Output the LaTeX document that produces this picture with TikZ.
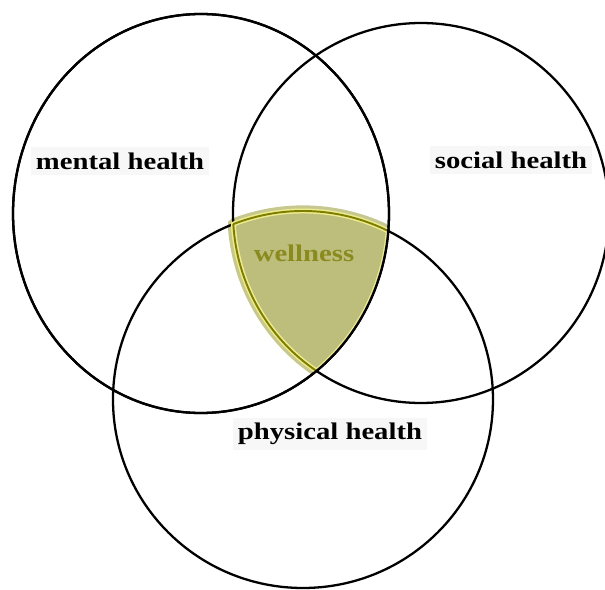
\documentclass[tikz,border=0pt]{standalone}
\usepackage{fontspec}
\newfontfamily\vennfont{Liberation Serif}[FakeStretch=1.2]
\definecolor{wellfill}{RGB}{189,190,124}
\definecolor{wellline}{RGB}{125,125,0}
\definecolor{wellglow}{RGB}{238,236,140}
\definecolor{welltext}{RGB}{138,138,30}
\begin{document}
\begin{tikzpicture}[x=0.01cm, y=0.01cm,
	ring/.style={draw=black, line width=0.65pt},
	vennlabel/.style={font=\vennfont\bfseries\fontsize{6.8}{8}\selectfont, anchor=base, inner sep=1.5pt, fill=black!3}]
	\useasboundingbox (0,0) rectangle (605,590);
	% centres of the three rings
	\coordinate (mental) at (201,376.5);
	\coordinate (social) at (421,377);
	\coordinate (physical) at (303,190.5);
	% corners of the common part
	\coordinate (tl) at (233.32,365.87);
	\coordinate (tr) at (388.27,358.95);
	\coordinate (bot) at (316.48,219.07);
	\def\wellpath{(tl) arc[start angle=111.52, end angle=63.33, x radius=190, y radius=188.5]
		arc[start angle=-5.05, end angle=-52.10, x radius=188, y radius=199.5]
		arc[start angle=-123.78, end angle=-176.64, x radius=188, y radius=190] -- cycle}
	\begin{scope}
		\clip (mental) ellipse [x radius=188, y radius=199.5];
		\draw [wellfill, line width=3.2pt, line join=round, opacity=0.85] \wellpath;
	\end{scope}
	\fill [wellfill] \wellpath;
	\draw [ring] (mental) ellipse [x radius=188, y radius=199.5];
	\draw [ring] (social) ellipse [x radius=188, y radius=190];
	\draw [ring] (physical) ellipse [x radius=190, y radius=188.5];
	\begin{scope}
		\clip (mental) ellipse [x radius=188, y radius=199.5];
		\draw [wellglow, line width=1.4pt, line join=round] \wellpath;
	\end{scope}
	\draw [wellline, line width=0.55pt] (tl) arc[start angle=111.52, end angle=63.33, x radius=190, y radius=188.5];
	\draw [wellline, line width=0.55pt] (bot) arc[start angle=-123.78, end angle=-176.64, x radius=188, y radius=190];
	\draw [ring] (mental) ellipse [x radius=188, y radius=199.5];
	% labels
	\node [vennlabel] (mentaltext) at (120,421) {mental health};
	\node [vennlabel] (socialtext) at (511,422) {social health};
	\node [vennlabel] (physicaltext) at (330,150) {physical health};
	\node [vennlabel, fill=none, text=welltext] (welltext) at (304,328) {wellness};
\end{tikzpicture}
\end{document}
